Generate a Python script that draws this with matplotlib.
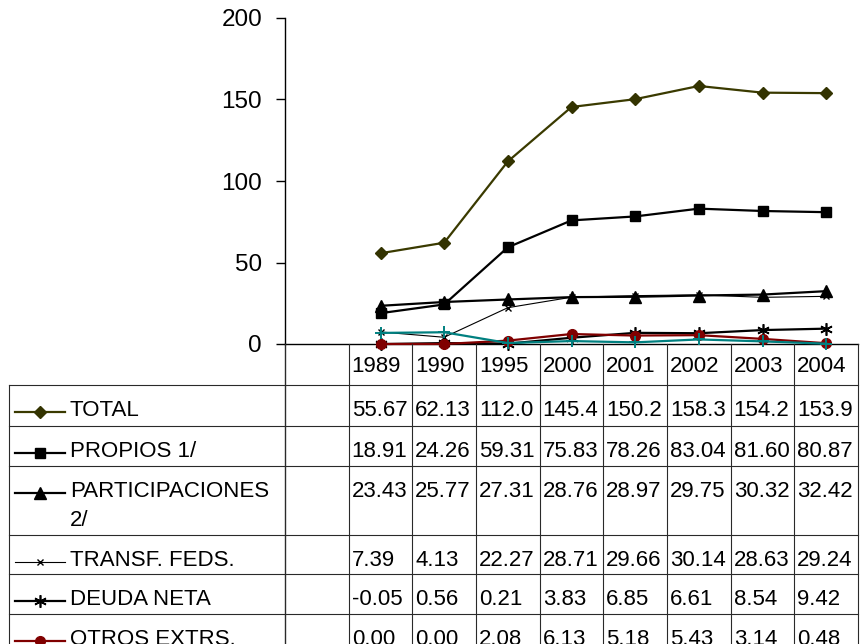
import matplotlib
matplotlib.use("Agg")
import matplotlib.pyplot as plt
from matplotlib.lines import Line2D

plt.rcParams["font.family"] = ["Liberation Sans", "DejaVu Sans"]

# ---- data -------------------------------------------------------------
years = ["1989", "1990", "1995", "2000", "2001", "2002", "2003", "2004"]

total = [55.67, 62.13, 112.0, 145.4, 150.2, 158.3, 154.2, 153.9]
propios = [18.91, 24.26, 59.31, 75.83, 78.26, 83.04, 81.60, 80.87]
participaciones = [23.43, 25.77, 27.31, 28.76, 28.97, 29.75, 30.32, 32.42]
transf_feds = [7.39, 4.13, 22.27, 28.71, 29.66, 30.14, 28.63, 29.24]
deuda_neta = [-0.05, 0.56, 0.21, 3.83, 6.85, 6.61, 8.54, 9.42]
otros_extrs = [0.00, 0.00, 2.08, 6.13, 5.18, 5.43, 3.14, 0.48]
otros = [6.8, 7.2, 0.6, 1.8, 1.0, 2.8, 1.6, 0.2]

labels = ["TOTAL", "PROPIOS 1/", "PARTICIPACIONES\n2/", "TRANSF. FEDS.",
          "DEUDA NETA", "OTROS EXTRS."]

yticks = [0, 50, 100, 150, 200]

# ---- styles -----------------------------------------------------------
asterisk = (6, 2, 0)
styles = [
    dict(color="#3a3a00", lw=1.6, marker="D", ms=6.2, mfc="#333300", mec="#333300"),
    dict(color="black", lw=1.6, marker="s", ms=7.0, mfc="black", mec="black"),
    dict(color="black", lw=1.6, marker="^", ms=8.0, mfc="black", mec="black"),
    dict(color="black", lw=0.8, marker="x", ms=5.0, mew=1.0, mec="black"),
    dict(color="black", lw=1.6, marker=asterisk, ms=9.0, mew=1.2, mec="black"),
    dict(color="#800000", lw=1.6, marker="o", ms=7.0, mfc="#800000", mec="#800000"),
]
teal_style = dict(color="#008080", lw=1.6, marker="+", ms=9.0, mew=1.4, mec="#008080")

series = [total, propios, participaciones, transf_feds, deuda_neta, otros_extrs]

FONT = 16
TICK_FONT = 17.5
W, H = 861, 644
fig = plt.figure(figsize=(W / 100, H / 100), dpi=100)

# chart area (pixel geometry of the plot)
x0, x1 = 285, 858
y_top, y_zero = 18, 344
ax = fig.add_axes([x0 / W, (H - y_zero) / H, (x1 - x0) / W, (y_zero - y_top) / H])
n_slots = len(years) + 1
xs = [i + 1.5 for i in range(len(years))]

for vals, st in zip(series, styles):
    ax.plot(xs, vals, clip_on=False, zorder=3, **st)
ax.plot(xs, otros, clip_on=False, zorder=3, **teal_style)

ax.set_xlim(0, n_slots)
ax.set_ylim(0, 200)
ax.set_yticks(yticks)
ax.set_yticklabels([str(t) for t in yticks], fontsize=TICK_FONT)
ax.set_xticks([])
ax.tick_params(axis="y", direction="out", length=6.5, width=1.0, pad=10)
for s in ("top", "right"):
    ax.spines[s].set_visible(False)
ax.spines["left"].set_linewidth(1.0)
ax.spines["bottom"].set_linewidth(1.0)
ax.patch.set_alpha(0)

# ---- data table drawn in pixel coordinates ---------------------------
tx = fig.add_axes([0, 0, 1, 1])
tx.set_xlim(0, W)
tx.set_ylim(H, 0)
tx.axis("off")

slot = (x1 - x0) / n_slots
col_edges = [x0 + slot * k for k in range(n_slots + 1)]
row_edges = [385, 426, 466, 535, 574, 614, 654]
left_edge = 9
gcol = "#2a2a2a"
glw = 0.8

for yv in row_edges:
    tx.plot([left_edge, x1], [yv, yv], color=gcol, lw=glw)
tx.plot([left_edge, left_edge], [row_edges[0], row_edges[-1]], color=gcol, lw=glw)
tx.plot([x0, x0], [y_zero, row_edges[-1]], color=gcol, lw=1.0)
for xe in col_edges[1:]:
    tx.plot([xe, xe], [y_zero, row_edges[-1]], color=gcol, lw=glw)

# header row with years
for k, yr in enumerate(years):
    tx.text(col_edges[k + 1] + 3, 372, yr, fontsize=FONT, va="baseline", ha="left")


def fmt(v):
    return f"{v:.1f}" if abs(v) >= 100 else f"{v:.2f}"


for r, (lab, vals, st) in enumerate(zip(labels, series, styles)):
    top = row_edges[r]
    base = top + 31
    # legend key
    key = Line2D([15, 65], [base - 4, base - 4],
                 **{k: v for k, v in st.items() if k not in ("marker",)})
    tx.add_line(key)
    tx.plot([40], [base - 4], linestyle="none", marker=st["marker"],
            ms=st.get("ms"), mfc=st.get("mfc", "none"), mec=st.get("mec"),
            mew=st.get("mew", 1.0))
    for i, line in enumerate(lab.split("\n")):
        tx.text(70, base + i * 29, line, fontsize=FONT, va="baseline", ha="left")
    for k, v in enumerate(vals):
        tx.text(col_edges[k + 1] + 3, base, fmt(v), fontsize=FONT,
                va="baseline", ha="left")

fig.savefig("out.png", dpi=100)
